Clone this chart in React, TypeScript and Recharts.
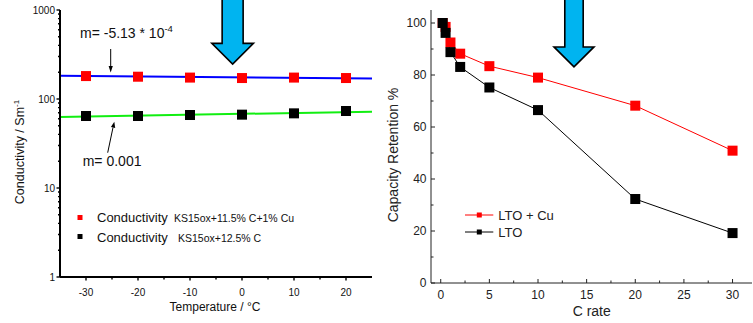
import React from 'react';
import { ComposedChart, Line, XAxis, YAxis, ReferenceDot, Customized } from 'recharts';

const FONT = '"Liberation Sans", Arial, Helvetica, sans-serif';

// ---- Left panel: conductivity vs temperature ----
const temperatures = [-30, -20, -10, 0, 10, 20];
const conductivityCu = [181, 178, 174, 172, 174, 172];
const conductivityC = [64.4, 64.4, 66.1, 66.7, 69, 73.3];

// linear fits of log10(conductivity) against temperature
const fitTemps = [-35, 25];
const slopeCu = -5.13e-4;
const interceptCu = 2.244;
const slopeC = 0.001;
const interceptC = 1.833;

const tempTicks = [-30, -25, -20, -15, -10, -5, 0, 5, 10, 15, 20];
const tempLabels = [-30, -20, -10, 0, 10, 20];
const condTicks = [
  1, 2, 3, 4, 5, 6, 7, 8, 9,
  10, 20, 30, 40, 50, 60, 70, 80, 90,
  100, 200, 300, 400, 500, 600, 700, 800, 900,
  1000,
];
const condLabels = [1, 10, 100, 1000];

// ---- Right panel: capacity retention vs C rate ----
const cRates = [0.2, 0.5, 1, 2, 5, 10, 20, 30];
const retentionCu = [100, 98.5, 92.5, 88.2, 83.4, 79, 68.2, 50.9];
const retentionLTO = [100, 96.2, 88.8, 83.1, 75.2, 66.5, 32.3, 19.2];

const cRateTicks = [0, 2.5, 5, 7.5, 10, 12.5, 15, 17.5, 20, 22.5, 25, 27.5, 30];
const cRateLabels = [0, 5, 10, 15, 20, 25, 30];
const retentionTicks = [0, 10, 20, 30, 40, 50, 60, 70, 80, 90, 100];
const retentionLabels = [0, 20, 40, 60, 80, 100];

const pts = (xs: number[], ys: number[]) => xs.map((x, i) => ({ x, v: ys[i] }));
const fitLine = (m: number, b: number) => fitTemps.map((t) => ({ x: t, v: Math.pow(10, b + m * t) }));

const squareDot = (size: number, fill: string) => (p: any) => (
  <rect
    key={`sq-${p.index}`}
    x={p.cx - size / 2}
    y={p.cy - size / 2}
    width={size}
    height={size}
    fill={fill}
  />
);

const BlueArrow = (sw: number, hw: number, hh: number) => (p: any) => {
  const { cx, cy } = p;
  const top = -6;
  const base = cy - hh;
  const d = [
    [cx - sw, top], [cx + sw, top], [cx + sw, base], [cx + hw, base],
    [cx, cy], [cx - hw, base], [cx - sw, base],
  ].map((q) => q.join(',')).join(' ');
  return <polygon points={d} fill="#00B4F0" stroke="#000" strokeWidth={1.6} strokeLinejoin="miter" />;
};

// ---- tick renderers ----
const TempTick = (p: any) => {
  const { x, y, payload } = p;
  const major = tempLabels.includes(payload.value);
  return (
    <g>
      <line x1={x} x2={x} y1={y} y2={y + (major ? 3.5 : 2.5)} stroke="#000" strokeWidth={1.4} />
      {major && (
        <text x={x} y={y + 18.5} textAnchor="middle" fontSize={10} fontFamily={FONT} fill="#111">
          {payload.value}
        </text>
      )}
    </g>
  );
};

const CondTick = (p: any) => {
  const { x, y, payload } = p;
  const major = condLabels.includes(payload.value);
  return (
    <g>
      <line x1={x} x2={x - (major ? 3.5 : 2)} y1={y} y2={y} stroke="#000" strokeWidth={1.4} />
      {major && (
        <text x={x - 5} y={y + 3.5} textAnchor="end" fontSize={10} fontFamily={FONT} fill="#111">
          {payload.value}
        </text>
      )}
    </g>
  );
};

const RateTick = (p: any) => {
  const { x, y, payload } = p;
  const major = cRateLabels.includes(payload.value);
  return (
    <g>
      <line x1={x} x2={x} y1={y} y2={y - (major ? 4 : 2.5)} stroke="#222" strokeWidth={1} />
      {major && (
        <text x={x} y={y + 15.5} textAnchor="middle" fontSize={12} fontFamily={FONT} fill="#222">
          {payload.value}
        </text>
      )}
    </g>
  );
};

const RateTopTick = (p: any) => {
  const { x, y, payload } = p;
  const major = cRateLabels.includes(payload.value);
  return <line x1={x} x2={x} y1={y} y2={y + (major ? 4 : 2.5)} stroke="#222" strokeWidth={1} />;
};

const RetentionTick = (p: any) => {
  const { x, y, payload } = p;
  const major = retentionLabels.includes(payload.value);
  return (
    <g>
      <line x1={x} x2={x + (major ? 4 : 2.5)} y1={y} y2={y} stroke="#222" strokeWidth={1} />
      {major && (
        <text x={x - 4.5} y={y + 4} textAnchor="end" fontSize={12} fontFamily={FONT} fill="#222">
          {payload.value}
        </text>
      )}
    </g>
  );
};

// ---- static text and legends ----
const LeftDecor = () => (
  <g fontFamily={FONT} fill="#111">
    <text transform="rotate(-90)" x={-152} y={23.5} textAnchor="middle" fontSize={12.5}>
      Conductivity / Sm<tspan fontSize={8} dy={-5}>-1</tspan>
    </text>
    <text x={215} y={311} textAnchor="middle" fontSize={12}>Temperature / °C</text>

    <text x={80} y={38.3} fontSize={14}>
      m= -5.13 * 10<tspan fontSize={9.5} dy={-6}>-4</tspan>
    </text>
    <line x1={110.7} y1={49} x2={110.7} y2={67} stroke="#000" strokeWidth={1} />
    <polygon points="108.6,66 112.8,66 110.7,72.5" fill="#000" />

    <text x={82.7} y={166.3} fontSize={14}>m= 0.001</text>
    <line x1={107.7} y1={152.7} x2={113} y2={127.5} stroke="#000" strokeWidth={1} />
    <polygon points="115.2,128.1 110.9,127.1 114.3,121.7" fill="#000" />

    <rect x={77.5} y={215} width={5} height={5} fill="#FF0000" />
    <text x={97} y={222.3} fontSize={13}>Conductivity</text>
    <text x={174} y={222.3} fontSize={10.5}>KS15ox+11.5% C+1% Cu</text>
    <rect x={77.5} y={234} width={5} height={5} fill="#000" />
    <text x={97} y={241.5} fontSize={13}>Conductivity</text>
    <text x={178} y={241.5} fontSize={10.5}>KS15ox+12.5% C</text>
  </g>
);

const RightDecor = () => (
  <g fontFamily={FONT} fill="#222">
    <text transform="rotate(-90)" x={-155} y={18} textAnchor="middle" fontSize={14}>
      Capacity Retention %
    </text>
    <text x={211.7} y={316} textAnchor="middle" fontSize={14}>C rate</text>

    <line x1={85} x2={113.3} y1={215} y2={215} stroke="#FF0000" strokeWidth={1} />
    <rect x={96.8} y={212.5} width={5} height={5} fill="#FF0000" />
    <text x={118.3} y={220} fontSize={13}>LTO + Cu</text>
    <line x1={85} x2={113.3} y1={232} y2={232} stroke="#000" strokeWidth={1} />
    <rect x={96.8} y={229.5} width={5} height={5} fill="#000" />
    <text x={118.3} y={237} fontSize={13}>LTO</text>
  </g>
);

export default function App() {
  return (
    <div style={{ position: 'absolute', left: 0, top: 0, width: 753, height: 323, background: '#fff' }}>
      <div style={{ position: 'absolute', left: 0, top: 0 }}>
        <ComposedChart width={380} height={323} margin={{ top: 10, right: 8, bottom: 0, left: 0 }}>
          <XAxis
            xAxisId="b"
            type="number"
            dataKey="x"
            domain={[-35, 25]}
            ticks={tempTicks}
            interval={0}
            tick={<TempTick />}
            tickLine={false}
            tickSize={0}
            tickMargin={0}
            axisLine={{ stroke: '#000', strokeWidth: 2 }}
            height={46}
            allowDataOverflow
          />
          <XAxis
            xAxisId="t"
            orientation="top"
            type="number"
            dataKey="x"
            domain={[-35, 25]}
            tick={false}
            tickLine={false}
            axisLine={{ stroke: '#888', strokeWidth: 1 }}
            height={0}
            allowDataOverflow
          />
          <YAxis
            yAxisId="l"
            type="number"
            dataKey="v"
            scale="log"
            domain={[1, 1000]}
            ticks={condTicks}
            interval={0}
            tick={<CondTick />}
            tickLine={false}
            tickSize={0}
            tickMargin={0}
            axisLine={{ stroke: '#000', strokeWidth: 2 }}
            width={60}
            allowDataOverflow
          />
          <YAxis
            yAxisId="r"
            orientation="right"
            type="number"
            dataKey="v"
            scale="log"
            domain={[1, 1000]}
            tick={false}
            tickLine={false}
            axisLine={{ stroke: '#888', strokeWidth: 1 }}
            width={0}
            allowDataOverflow
          />
          <Line
            xAxisId="b"
            yAxisId="l"
            data={fitLine(slopeCu, interceptCu)}
            dataKey="v"
            stroke="#0000FF"
            strokeWidth={2}
            dot={false}
            isAnimationActive={false}
          />
          <Line
            xAxisId="b"
            yAxisId="l"
            data={fitLine(slopeC, interceptC)}
            dataKey="v"
            stroke="#11EE11"
            strokeWidth={2}
            dot={false}
            isAnimationActive={false}
          />
          <Line
            xAxisId="b"
            yAxisId="l"
            data={pts(temperatures, conductivityCu)}
            dataKey="v"
            stroke="none"
            dot={squareDot(10, '#FF0000')}
            isAnimationActive={false}
          />
          <Line
            xAxisId="b"
            yAxisId="l"
            data={pts(temperatures, conductivityC)}
            dataKey="v"
            stroke="none"
            dot={squareDot(10, '#000')}
            isAnimationActive={false}
          />
          <Customized component={LeftDecor} />
          <ReferenceDot
            xAxisId="b"
            yAxisId="l"
            x={-1.8}
            y={247}
            ifOverflow="visible"
            shape={BlueArrow(10.5, 20.8, 20.7)}
          />
        </ComposedChart>
      </div>

      <div style={{ position: 'absolute', left: 380, top: 0 }}>
        <ComposedChart width={373} height={323} margin={{ top: 10, right: 1, bottom: 0, left: 0 }}>
          <XAxis
            xAxisId="b"
            type="number"
            dataKey="x"
            domain={[-1, 32]}
            ticks={cRateTicks}
            interval={0}
            tick={<RateTick />}
            tickLine={false}
            tickSize={0}
            tickMargin={0}
            axisLine={{ stroke: '#222', strokeWidth: 1 }}
            height={40}
            allowDataOverflow
          />
          <XAxis
            xAxisId="t"
            orientation="top"
            type="number"
            dataKey="x"
            domain={[-1, 32]}
            ticks={cRateTicks}
            interval={0}
            tick={<RateTopTick />}
            tickLine={false}
            tickSize={0}
            tickMargin={0}
            axisLine={{ stroke: '#222', strokeWidth: 1 }}
            height={0}
            allowDataOverflow
          />
          <YAxis
            yAxisId="l"
            type="number"
            dataKey="v"
            domain={[0, 105]}
            ticks={retentionTicks}
            interval={0}
            tick={<RetentionTick />}
            tickLine={false}
            tickSize={0}
            tickMargin={0}
            axisLine={{ stroke: '#222', strokeWidth: 1 }}
            width={51}
            allowDataOverflow
          />
          <YAxis
            yAxisId="r"
            orientation="right"
            type="number"
            dataKey="v"
            domain={[0, 105]}
            tick={false}
            tickLine={false}
            axisLine={{ stroke: '#222', strokeWidth: 1 }}
            width={0}
            allowDataOverflow
          />
          <Line
            xAxisId="b"
            yAxisId="l"
            data={pts(cRates, retentionCu)}
            dataKey="v"
            stroke="#FF0000"
            strokeWidth={1}
            dot={squareDot(10, '#FF0000')}
            isAnimationActive={false}
          />
          <Line
            xAxisId="b"
            yAxisId="l"
            data={pts(cRates, retentionLTO)}
            dataKey="v"
            stroke="#000"
            strokeWidth={1}
            dot={squareDot(10, '#000')}
            isAnimationActive={false}
          />
          <Customized component={RightDecor} />
          <ReferenceDot
            xAxisId="b"
            yAxisId="l"
            x={13.7}
            y={83.1}
            ifOverflow="visible"
            shape={BlueArrow(9.2, 20, 20)}
          />
        </ComposedChart>
      </div>
    </div>
  );
}
